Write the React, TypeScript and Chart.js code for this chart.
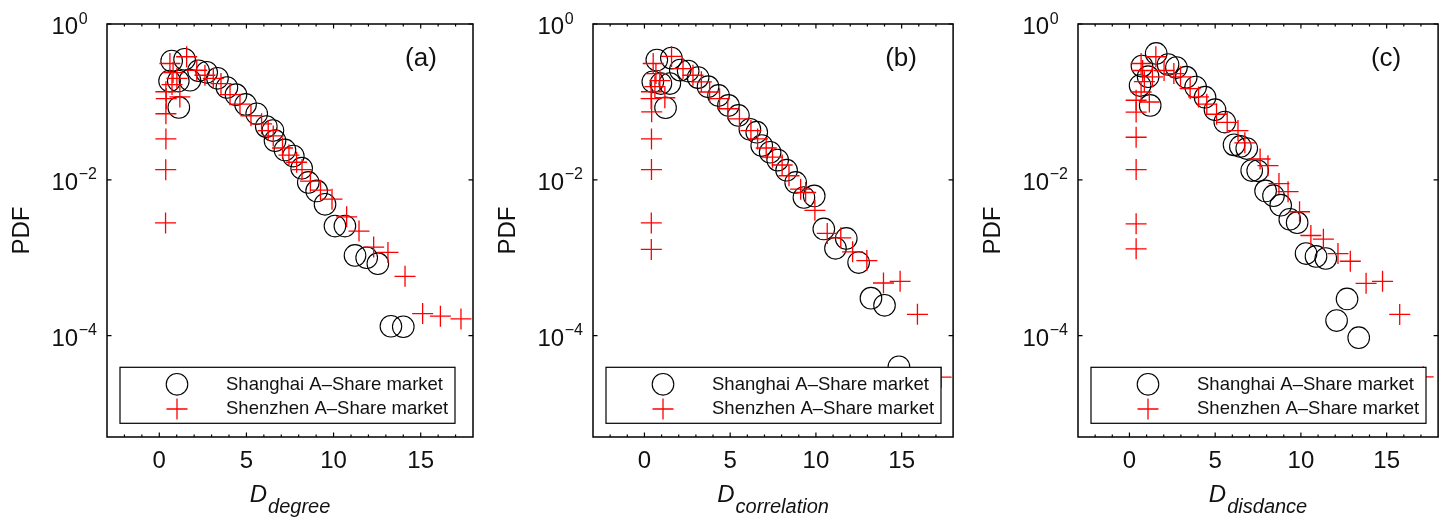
import React, { useEffect, useRef } from 'react';
import { Chart, registerables } from 'chart.js';

Chart.register(...registerables);

// ---------- axis / text data ----------
const xMajorTicks = [0, 5, 10, 15];
const yMajorTicks = [1, 1e-2, 1e-4];
const yTickExponents = ['0', '\u22122', '\u22124'];
const legendLabels = ['Shanghai A\u2013Share market', 'Shenzhen A\u2013Share market'];
const panelLetters = ['(a)', '(b)', '(c)'];
const xTitleSubs = ['degree', 'correlation', 'disdance'];
const yTitle = 'PDF';

// ---------- panel (a) D_degree ----------
const shanghaiDegreeX = [0.71, 1.45, 0.59, 1.09, 1.76, 1.12, 2.25, 2.72, 3.34, 3.88, 4.40, 4.95, 5.59, 6.14, 6.52, 6.64, 7.21, 7.69, 8.17, 8.55, 9.03, 9.51, 10.08, 10.65, 11.23, 11.90, 12.54, 13.29, 14.00];
const shanghaiDegreeY = [0.335, 0.353, 0.185, 0.185, 0.19, 0.085, 0.251, 0.240, 0.201, 0.153, 0.124, 0.0927, 0.0705, 0.0482, 0.0429, 0.0318, 0.0242, 0.0202, 0.0141, 0.00925, 0.00721, 0.00485, 0.00255, 0.00255, 0.00107, 0.00100, 0.00084, 0.000132, 0.000130];
const shenzhenDegreeX = [0.38, 0.40, 0.38, 0.38, 0.37, 0.36, 0.61, 1.57, 0.79, 1.01, 0.73, 1.18, 2.15, 2.62, 3.10, 3.54, 4.06, 4.63, 5.26, 5.87, 6.25, 6.54, 7.07, 7.44, 7.88, 8.19, 8.67, 9.25, 9.91, 10.75, 11.46, 12.30, 13.12, 14.10, 15.11, 16.13, 17.31];
const shenzhenDegreeY = [0.135, 0.11, 0.0705, 0.0335, 0.0135, 0.0028, 0.311, 0.38, 0.238, 0.20, 0.167, 0.116, 0.255, 0.22, 0.20, 0.172, 0.124, 0.0934, 0.0664, 0.0523, 0.0429, 0.0366, 0.0256, 0.0208, 0.0168, 0.01355, 0.0096, 0.00736, 0.00564, 0.00335, 0.0022, 0.00137, 0.00117, 0.000577, 0.000192, 0.000178, 0.000164];

// ---------- panel (b) D_correlation ----------
const shanghaiCorrX = [0.72, 1.57, 0.49, 0.96, 1.48, 1.23, 2.09, 2.55, 3.13, 3.71, 4.32, 4.90, 5.48, 6.15, 6.55, 6.84, 7.33, 7.77, 8.29, 8.82, 9.30, 9.90, 10.46, 11.14, 11.77, 12.49, 13.21, 14.00, 14.84];
const shanghaiCorrY = [0.345, 0.365, 0.181, 0.172, 0.172, 0.0841, 0.256, 0.249, 0.205, 0.157, 0.121, 0.0902, 0.067, 0.0445, 0.0409, 0.0275, 0.0226, 0.0179, 0.0133, 0.00925, 0.00593, 0.00622, 0.00234, 0.00132, 0.00177, 0.000867, 0.000303, 0.000245, 0.0000398];
const shenzhenCorrX = [0.41, 0.39, 0.42, 0.41, 0.41, 0.40, 0.40, 0.51, 1.58, 0.67, 0.90, 0.61, 1.19, 2.25, 2.83, 3.32, 3.80, 4.38, 4.86, 5.54, 6.21, 6.60, 7.10, 7.47, 8.03, 8.43, 9.11, 9.40, 9.94, 10.66, 11.45, 12.14, 12.97, 13.94, 14.91, 15.92, 17.30];
const shenzhenCorrY = [0.135, 0.11, 0.0747, 0.0335, 0.01355, 0.0028, 0.00128, 0.311, 0.383, 0.231, 0.188, 0.157, 0.113, 0.268, 0.22, 0.181, 0.134, 0.11, 0.0817, 0.0607, 0.0429, 0.0335, 0.0256, 0.0195, 0.0155, 0.01127, 0.00759, 0.00687, 0.00406, 0.00205, 0.0018, 0.00119, 0.00092, 0.000474, 0.000498, 0.000188, 0.0000293];

// ---------- panel (c) D_disdance ----------
const shanghaiDistX = [1.56, 0.73, 1.09, 0.62, 1.21, 2.25, 2.74, 3.31, 3.86, 4.41, 4.99, 5.56, 6.10, 6.47, 6.84, 7.13, 7.48, 7.94, 8.40, 8.82, 9.35, 9.78, 10.30, 10.88, 11.45, 12.69, 12.08, 13.37];
const shanghaiDistY = [0.419, 0.288, 0.211, 0.162, 0.0902, 0.302, 0.276, 0.208, 0.155, 0.115, 0.0794, 0.0551, 0.0281, 0.0268, 0.0252, 0.01315, 0.01306, 0.00721, 0.00625, 0.00472, 0.00311, 0.00282, 0.00113, 0.00104, 0.000977, 0.000296, 0.000156, 0.0000942];
const shenzhenDistX = [0.39, 0.39, 0.39, 0.39, 0.39, 0.39, 0.68, 1.54, 0.77, 0.87, 0.68, 1.16, 1.34, 2.02, 2.59, 2.98, 3.54, 4.03, 4.51, 5.08, 5.70, 6.33, 6.73, 7.62, 8.08, 8.72, 9.25, 9.92, 10.58, 11.31, 12.16, 12.88, 13.80, 14.76, 15.76, 17.13];
const shenzhenDistY = [0.105, 0.074, 0.0352, 0.01355, 0.00272, 0.0013, 0.311, 0.38, 0.253, 0.182, 0.134, 0.0997, 0.21, 0.253, 0.231, 0.21, 0.148, 0.116, 0.0934, 0.0694, 0.0547, 0.0429, 0.0298, 0.0185, 0.0152, 0.00894, 0.00705, 0.00389, 0.00193, 0.00173, 0.00113, 0.000901, 0.000469, 0.000498, 0.000187, 0.0000296];

const panelSeries = [
  [shanghaiDegreeX, shanghaiDegreeY, shenzhenDegreeX, shenzhenDegreeY],
  [shanghaiCorrX, shanghaiCorrY, shenzhenCorrX, shenzhenCorrY],
  [shanghaiDistX, shanghaiDistY, shenzhenDistX, shenzhenDistY],
];

// canvas placement (page px) and chart-area padding
const panelLayout = [
  { left: 0, width: 485, padLeft: 107, padRight: 12 },
  { left: 485, width: 480, padLeft: 108, padRight: 10 },
  { left: 965, width: 485, padLeft: 113, padRight: 7 },
];

const FONT = "'Liberation Sans', Arial, Helvetica, sans-serif";
const H = 519;

function zip(xs: number[], ys: number[]) {
  return xs.map((x, i) => ({ x, y: ys[i] }));
}

function drawCircle(ctx: CanvasRenderingContext2D, x: number, y: number) {
  ctx.beginPath();
  ctx.arc(x, y, 10.8, 0, Math.PI * 2);
  ctx.strokeStyle = '#000';
  ctx.lineWidth = 1.1;
  ctx.stroke();
}
function drawCross(ctx: CanvasRenderingContext2D, x: number, y: number) {
  ctx.beginPath();
  ctx.moveTo(x - 10.5, y);
  ctx.lineTo(x + 10.5, y);
  ctx.moveTo(x, y - 10.5);
  ctx.lineTo(x, y + 10.5);
  ctx.strokeStyle = '#ff0000';
  ctx.lineWidth = 1.3;
  ctx.stroke();
}

function makeDecor(idx: number) {
  return {
    id: 'matlabDecor' + idx,
    afterDatasetsDraw(chart: any) {
      const ctx: CanvasRenderingContext2D = chart.ctx;
      const a = chart.chartArea;
      const xs = chart.scales.x;
      const ys = chart.scales.y;
      ctx.save();

      // legend box (opaque, over data)
      const lx = a.left + 13;
      const ly = a.bottom - 69.7;
      const lw = 335;
      const lh = 56;
      ctx.fillStyle = '#fff';
      ctx.fillRect(lx, ly, lw, lh);
      ctx.strokeStyle = '#000';
      ctx.lineWidth = 1.2;
      ctx.strokeRect(lx, ly, lw, lh);
      drawCircle(ctx, lx + 57, ly + 17);
      drawCross(ctx, lx + 57, ly + 41.7);
      ctx.fillStyle = '#111';
      ctx.font = `18.5px ${FONT}`;
      ctx.textAlign = 'left';
      ctx.textBaseline = 'middle';
      ctx.fillText(legendLabels[0], lx + 106, ly + 17.5);
      ctx.fillText(legendLabels[1], lx + 106, ly + 42);

      // axes box
      ctx.strokeStyle = '#000';
      ctx.lineWidth = 1.5;
      ctx.strokeRect(a.left, a.top, a.right - a.left, a.bottom - a.top);

      // x ticks (inward), major + minor, bottom and top
      ctx.lineWidth = 1.2;
      ctx.beginPath();
      for (let v = -2; v <= 17; v++) {
        const px = xs.getPixelForValue(v);
        const len = xMajorTicks.includes(v) ? 4.5 : 2.5;
        ctx.moveTo(px, a.bottom);
        ctx.lineTo(px, a.bottom - len);
        ctx.moveTo(px, a.top);
        ctx.lineTo(px, a.top + len);
      }
      // y ticks, left and right
      yMajorTicks.forEach((v) => {
        const py = ys.getPixelForValue(v);
        ctx.moveTo(a.left, py);
        ctx.lineTo(a.left + 4.5, py);
        ctx.moveTo(a.right, py);
        ctx.lineTo(a.right - 4.5, py);
      });
      ctx.stroke();

      // x tick labels
      ctx.fillStyle = '#111';
      ctx.font = `24px ${FONT}`;
      ctx.textAlign = 'center';
      ctx.textBaseline = 'alphabetic';
      xMajorTicks.forEach((v) => {
        ctx.fillText(String(v), xs.getPixelForValue(v), a.bottom + 31);
      });

      // y tick labels 10^k
      yMajorTicks.forEach((v, i) => {
        const py = ys.getPixelForValue(v);
        ctx.font = `24px ${FONT}`;
        ctx.textAlign = 'left';
        const x0 = a.left - 55.5;
        ctx.fillText('10', x0, py + 10);
        const w = ctx.measureText('10').width;
        ctx.font = `16px ${FONT}`;
        ctx.fillText(yTickExponents[i], x0 + w + 0.5, py - 0.5);
      });

      // y title
      ctx.save();
      ctx.translate(a.left - 85, (a.top + a.bottom) / 2);
      ctx.rotate(-Math.PI / 2);
      ctx.font = `24px ${FONT}`;
      ctx.textAlign = 'center';
      ctx.textBaseline = 'middle';
      ctx.fillText(yTitle, 0, 0);
      ctx.restore();

      // x title D_sub
      ctx.textAlign = 'left';
      ctx.textBaseline = 'alphabetic';
      ctx.font = `italic 24px ${FONT}`;
      const wD = ctx.measureText('D').width;
      ctx.font = `italic 20px ${FONT}`;
      const wS = ctx.measureText(xTitleSubs[idx]).width;
      const start = (a.left + a.right) / 2 - (wD + wS + 1) / 2;
      ctx.font = `italic 24px ${FONT}`;
      ctx.fillText('D', start, 501.5);
      ctx.font = `italic 20px ${FONT}`;
      ctx.fillText(xTitleSubs[idx], start + wD + 1, 513);

      // panel letter
      ctx.font = `26px ${FONT}`;
      ctx.textAlign = 'center';
      ctx.textBaseline = 'middle';
      ctx.fillText(panelLetters[idx], a.right - 52, a.top + 35);

      ctx.restore();
    },
  };
}

function Panel({ idx }: { idx: number }) {
  const ref = useRef<HTMLCanvasElement>(null);
  const lay = panelLayout[idx];
  useEffect(() => {
    const [sx, sy, zx, zy] = panelSeries[idx];
    const chart = new Chart(ref.current as HTMLCanvasElement, {
      type: 'scatter',
      data: {
        datasets: [
          {
            label: legendLabels[0],
            data: zip(sx, sy),
            pointStyle: 'circle',
            pointRadius: 10.8,
            pointHoverRadius: 10.8,
            borderColor: '#000',
            backgroundColor: 'rgba(0,0,0,0)',
            borderWidth: 1.1,
            order: 1,
            clip: false,
          } as any,
          {
            label: legendLabels[1],
            data: zip(zx, zy),
            pointStyle: 'cross',
            pointRadius: 10.5,
            pointHoverRadius: 10.5,
            borderColor: '#ff0000',
            backgroundColor: '#ff0000',
            borderWidth: 1.3,
            order: 0,
            clip: false,
          } as any,
        ],
      },
      options: {
        responsive: false,
        animation: false,
        events: [],
        layout: { padding: { left: lay.padLeft, right: lay.padRight, top: 24, bottom: 82 } },
        plugins: { legend: { display: false }, tooltip: { enabled: false } },
        scales: {
          x: { type: 'linear', min: -3, max: 18, display: false },
          y: { type: 'logarithmic', min: 5e-6, max: 1, display: false },
        },
      },
      plugins: [makeDecor(idx)],
    });
    return () => chart.destroy();
  }, [idx]);
  return (
    <canvas
      ref={ref}
      width={lay.width}
      height={H}
      style={{ position: 'absolute', left: lay.left, top: 0, width: lay.width, height: H, display: 'block' }}
    />
  );
}

export default function App() {
  return (
    <div style={{ position: 'fixed', left: 0, top: 0, width: 1450, height: H, background: '#fff', overflow: 'hidden' }}>
      <Panel idx={0} />
      <Panel idx={1} />
      <Panel idx={2} />
    </div>
  );
}
